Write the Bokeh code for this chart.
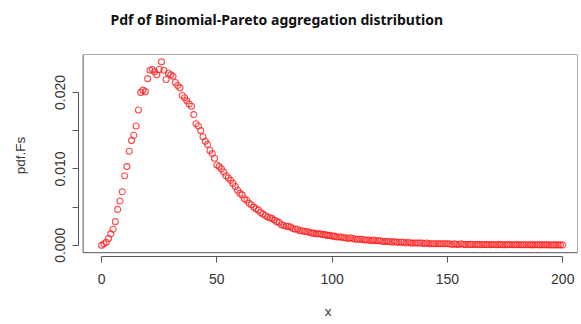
from bokeh.plotting import figure
from bokeh.models import ColumnDataSource, FixedTicker, BoxAnnotation, Range1d
from bokeh.embed import file_html
from bokeh.resources import INLINE

x_vals = list(range(0, 201))
pdf_fs = [
    0.0000, 0.0002, 0.0004, 0.0009, 0.0015, 0.0021, 0.0031, 0.0047, 0.0058, 0.0070,
    0.0091, 0.0103, 0.0123, 0.0137, 0.0144, 0.0156, 0.0177, 0.0200, 0.0203, 0.0201,
    0.0218, 0.0229, 0.0230, 0.0227, 0.0223, 0.0230, 0.0240, 0.0229, 0.0217, 0.0225,
    0.0223, 0.0221, 0.0213, 0.0209, 0.0206, 0.0196, 0.0193, 0.0189, 0.0185, 0.0182,
    0.0171, 0.0159, 0.0156, 0.0150, 0.0142, 0.0136, 0.0132, 0.0124, 0.0120, 0.0114,
    0.0105, 0.0103, 0.0100, 0.0096, 0.0091, 0.0088, 0.0085, 0.0081, 0.0077, 0.0072,
    0.0068, 0.0066, 0.0061, 0.0059, 0.0055, 0.0053, 0.0050, 0.0048, 0.0046, 0.0043,
    0.0041, 0.0039, 0.0037, 0.0036, 0.0035, 0.0033, 0.0031, 0.0030, 0.0027, 0.0026,
    0.0025, 0.0025, 0.0024, 0.0022, 0.0021, 0.0021, 0.0019, 0.0019, 0.0018, 0.0018,
    0.0017, 0.0016, 0.0016, 0.0015, 0.0015, 0.0015, 0.0014, 0.0014, 0.0013, 0.0013,
    0.0012, 0.0012, 0.0011, 0.0011, 0.0011, 0.0010, 0.0010, 0.0009, 0.0010, 0.0009,
    0.0008, 0.0008, 0.0008, 0.0008, 0.0007, 0.0007, 0.0007, 0.0006, 0.0007, 0.0006,
    0.0006, 0.0006, 0.0005, 0.0005, 0.0005, 0.0005, 0.0004, 0.0005, 0.0004, 0.0004,
    0.0004, 0.0004, 0.0003, 0.0004, 0.0003, 0.0003, 0.0003, 0.0003, 0.0003, 0.0003,
    0.0002, 0.0003, 0.0002, 0.0002, 0.0002, 0.0002, 0.0002, 0.0002, 0.0002, 0.0002,
    0.0002, 0.0002, 0.0001, 0.0002, 0.0001, 0.0001, 0.0002, 0.0001, 0.0001, 0.0001,
    0.00012, 0.0001, 0.00011, 0.0001, 0.00009, 0.0001, 0.00011, 0.00009, 0.0001, 0.00009,
    0.0001, 0.00008, 0.00009, 0.0001, 0.00008, 0.00009, 0.00008, 0.0001, 0.00008, 0.00007,
    0.00008, 0.00009, 0.00007, 0.00008, 0.00007, 0.00008, 0.00007, 0.00006, 0.00008, 0.00007,
    0.00006, 0.00007, 0.00006, 0.00007, 0.00006, 0.00005, 0.00006, 0.00006, 0.00005, 0.00006,
    0.00005,
]
x_ticks = [0, 50, 100, 150, 200]
y_ticks = [0.0, 0.005, 0.01, 0.015, 0.02]
y_tick_labels = {0.0: "0.000", 0.005: "", 0.01: "0.010", 0.015: "", 0.02: "0.020"}

title_text = "Pdf of Binomial-Pareto  aggregation  distribution"

src = ColumnDataSource(dict(x=x_vals, y=pdf_fs))

p = figure(width=580, height=323, output_backend="svg", toolbar_location=None,
           x_range=Range1d(-10.0, 206.4), y_range=Range1d(-0.00146, 0.02496),
           min_border_left=78, min_border_right=3, min_border_top=51, min_border_bottom=67,
           title=title_text + "\n ")

p.title.text_font = "Noto Sans"
p.title.text_font_size = "14px"
p.title.text_font_style = "bold"
p.title.text_color = "#111111"
p.title.align = "left"
p.title.offset = 32
p.title.standoff = 14

p.outline_line_color = None
p.xgrid.visible = False
p.ygrid.visible = False

# R-style box around the plotting region (usr range with 4% extension)
xmin, xmax = min(x_vals), max(x_vals)
ymin, ymax = min(pdf_fs), max(pdf_fs)
box = BoxAnnotation(left=xmin - 0.04 * (xmax - xmin), bottom=ymin - 0.04 * (ymax - ymin),
                    fill_color=None, line_color="#555555", line_width=1, line_alpha=1.0)
p.add_layout(box)

p.scatter("x", "y", source=src, marker="circle", size=6, fill_color=None,
          line_color="#ff1a1a", line_width=1.1, line_alpha=0.8)

ax = p.xaxis[0]
ax.ticker = FixedTicker(ticks=x_ticks)
ax.bounds = (x_ticks[0], x_ticks[-1])
ax.axis_label = "x"
ay = p.yaxis[0]
ay.ticker = FixedTicker(ticks=y_ticks)
ay.bounds = (y_ticks[0], y_ticks[-1])
ay.major_label_overrides = y_tick_labels
ay.axis_label = "pdf.Fs"
ay.major_label_orientation = "vertical"

for a in (ax, ay):
    a.axis_line_color = "#555555"
    a.major_tick_line_color = "#555555"
    a.minor_tick_line_color = None
    a.major_tick_in = 0
    a.major_tick_out = 6
    a.major_label_text_font = "Liberation Sans"
    a.major_label_text_font_size = "14px"
    a.major_label_text_color = "#333333"
    a.axis_label_text_font = "Liberation Sans"
    a.axis_label_text_font_size = "13.5px"
    a.axis_label_text_font_style = "normal"
    a.axis_label_text_color = "#333333"

ax.major_label_standoff = 11
ay.major_label_standoff = 7
ax.axis_label_standoff = 17
ay.axis_label_standoff = 25

open("out.html", "w").write(file_html(p, INLINE))
